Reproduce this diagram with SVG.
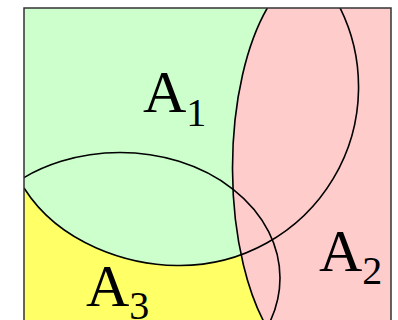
<svg xmlns="http://www.w3.org/2000/svg" width="398" height="320" viewBox="0 0 398 320">
<defs>
<clipPath id="frame"><rect x="24" y="8" width="367" height="330"/></clipPath>
</defs>
<style>
.curve{fill:none;stroke:#000;stroke-width:1.6}
.lbl{font-family:"Liberation Serif","Times New Roman",serif;font-size:60px;fill:#000}
.sub{font-size:40px}
</style>
<rect x="0" y="0" width="398" height="320" fill="#fff"/>
<g clip-path="url(#frame)">
  <g id="A1">
    <rect x="24" y="8" width="367" height="330" fill="#ccffcc"/>
  </g>
  <g id="A3">
    <path d="M24,188 C60,245 130,265 177,265.5 A178.5 178.5 0 0 0 272,240 L300,338 L24,338 Z" fill="#ffff66"/>
  </g>
  <g id="A2">
    <path d="M268.5,330 A87 200 0 0 1 267.3,8 L391,8 L391,338 L268.5,338 Z" fill="#ffcccc"/>
  </g>
  <g id="connectors">
    <path class="curve" d="M24,188 C60,245 130,265 177,265.5 A178.5 178.5 0 0 0 335.9,0"/>
    <path class="curve" d="M267.3,8 A87 200 0 0 0 268.5,330"/>
    <ellipse class="curve" cx="120" cy="278" rx="160" ry="125.5"/>
  </g>
</g>
<rect x="24" y="8" width="367" height="330" fill="none" stroke="#333" stroke-width="1.5"/>
<g id="labels">
  <text class="lbl" x="143" y="112">A<tspan class="sub" dy="14">1</tspan></text>
  <text class="lbl" x="319" y="271">A<tspan class="sub" dy="13">2</tspan></text>
  <text class="lbl" x="86" y="306">A<tspan class="sub" dy="13">3</tspan></text>
</g>
</svg>
